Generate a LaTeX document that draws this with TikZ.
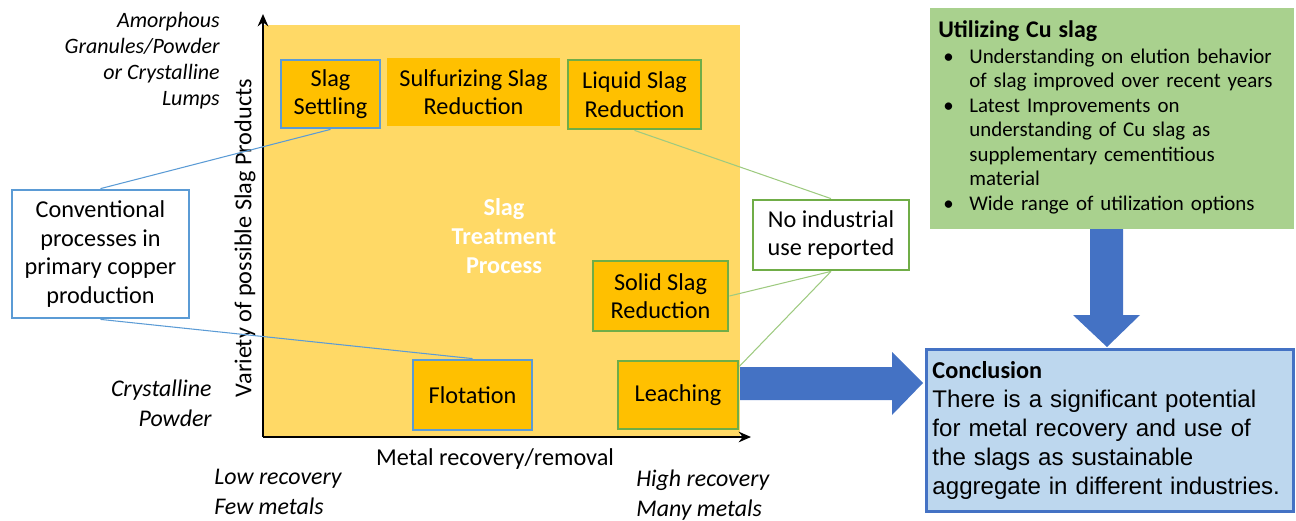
\documentclass[tikz,border=0pt]{standalone}
\usepackage{fontspec}
\setmainfont{Carlito}
\newfontfamily\arialfont{Liberation Sans}
\usepackage{xcolor}
\usetikzlibrary{arrows.meta}

\definecolor{bgyellow}{HTML}{FFD966}
\definecolor{boxorange}{HTML}{FFC000}
\definecolor{lineblue}{HTML}{5B9BD5}
\definecolor{linegreen}{HTML}{70AD47}
\definecolor{lightgreen}{HTML}{A9D18E}
\definecolor{lightblue}{HTML}{BDD7EE}
\definecolor{arrowblue}{HTML}{4472C4}

\begin{document}
\begin{tikzpicture}[
    x=0.02cm, y=-0.02cm,
    >={Stealth[length=7pt,width=6pt]},
    proc/.style={fill=boxorange, align=center, inner sep=0pt,
        font=\fontsize{13.8}{16.2}\selectfont},
    blueproc/.style={proc, draw=lineblue, line width=1.6pt},
    greenproc/.style={proc, draw=linegreen, line width=1.6pt},
    note/.style={fill=white, align=center, inner sep=0pt, line width=1.6pt,
        font=\fontsize{13.8}{16.4}\selectfont},
    axlabel/.style={inner sep=0pt, font=\fontsize{12.5}{14.7}\selectfont\itshape},
    endlabel/.style={inner sep=0pt, font=\fontsize{13.6}{16.6}\selectfont\itshape},
    bluelink/.style={draw=lineblue, line width=0.6pt},
    greenlink/.style={draw=lightgreen!80!linegreen, line width=0.6pt},
    fatarrow/.style={fill=arrowblue},
    ]

    \useasboundingbox (0,0) rectangle (1296,521);

    % treatment field
    \fill[bgyellow] (263,25) rectangle (740,437);

    % axes
    \draw[->, line width=1.4pt] (263,437) -- (263,14);
    \draw[->, line width=1.4pt] (263,437) -- (751,437);
    \node[rotate=90, font=\fontsize{13.8}{16.4}\selectfont] (ylab) at (245,238) {Variety of possible Slag Products};
    \node[font=\fontsize{13.8}{16.4}\selectfont] (xlab) at (495,459) {Metal recovery/removal};

    % axis ends (base = last line)
    \node[axlabel, align=right, anchor=base east] (ytop) at (220,105) {Amorphous\\Granules/Powder\\or Crystalline\\Lumps};
    \node[endlabel, align=right, anchor=base east] (ybot) at (212,426) {Crystalline\\Powder};
    \node[endlabel, align=left, anchor=base west] (xlow) at (214,514) {Low recovery\\Few metals};
    \node[endlabel, align=left, anchor=base west] (xhigh) at (636,516) {High recovery\\Many metals};

    \node[font=\fontsize{13.8}{16.4}\selectfont\bfseries, text=white, align=center] (stp) at (504,236) {Slag\\Treatment\\Process};

    % processes
    \node[blueproc, minimum width=1.98cm, minimum height=1.36cm] (settle) at (330.5,94) {Slag\\Settling};
    \node[proc, minimum width=3.46cm, minimum height=1.36cm] (sulf) at (473.5,92) {Sulfurizing Slag\\Reduction};
    \node[greenproc, minimum width=2.66cm, minimum height=1.38cm] (liquid) at (634.5,94.5) {Liquid Slag\\Reduction};
    \node[greenproc, minimum width=2.70cm, minimum height=1.40cm] (solid) at (660.5,296) {Solid Slag\\Reduction};
    \node[blueproc, minimum width=2.38cm, minimum height=1.40cm] (flot) at (472.5,395) {Flotation};
    \node[greenproc, minimum width=2.40cm, minimum height=1.36cm] (leach) at (678,395) {Leaching};

    % side notes
    \node[note, draw=lineblue, minimum width=3.54cm, minimum height=2.56cm] (conv) at (100.5,254) {Conventional\\processes in\\primary copper\\production};
    \node[note, draw=linegreen, minimum width=3.12cm, minimum height=1.40cm] (noind) at (831,235) {No industrial\\use reported};

    % links
    \draw[bluelink] (conv.north) -- (settle.south);
    \draw[bluelink] (conv.south) -- (flot.north);
    \draw[greenlink] (noind.north) -- (liquid.south);
    \draw[greenlink] (noind.south) -- (solid.east);
    \draw[greenlink] (noind.south) -- (leach.25);

    % Cu slag utilisation
    \node[fill=lightgreen, anchor=north west, minimum height=4.42cm,
          inner xsep=0.16cm, inner ysep=0pt, text width=6.96cm, align=left,
          font=\fontsize{11.9}{13.9}\selectfont] (util) at (930,8) {%
        {\fontsize{13.6}{15}\selectfont\bfseries Utilizing Cu slag}\\[2pt]
        \begin{tabular}{@{\hspace{0.1cm}}p{0.52cm}@{}p{6.3cm}@{}}
        \textbullet & Understanding on elution behavior\newline of slag improved over recent years\\
        \textbullet & Latest Improvements on\newline understanding of Cu slag as\newline supplementary cementitious\newline material\\
        \textbullet & Wide range of utilization options
        \end{tabular}};

    % conclusion
    \node[fill=lightblue, draw=arrowblue, line width=1.7pt, anchor=north west,
          minimum height=3.24cm, inner xsep=0.12cm, inner ysep=0pt,
          text width=7.1cm, align=left,
          font=\arialfont\fontsize{13.7}{16.4}\selectfont] (concl) at (925,348) {%
        {\rmfamily\bfseries\fontsize{13.8}{16.4}\selectfont Conclusion}\\
        There is a significant potential\\for metal recovery and use of\\the slags as sustainable\\aggregate in different industries.};

    % block arrows
    \fill[fatarrow] (740,367) -- (892,367) -- (892,352) -- (923,383) -- (892,415) -- (892,400) -- (740,400) -- cycle;
    \fill[fatarrow] (1090,229) -- (1123,229) -- (1123,315) -- (1140,315) -- (1107,347) -- (1073,315) -- (1090,315) -- cycle;

\end{tikzpicture}
\end{document}
